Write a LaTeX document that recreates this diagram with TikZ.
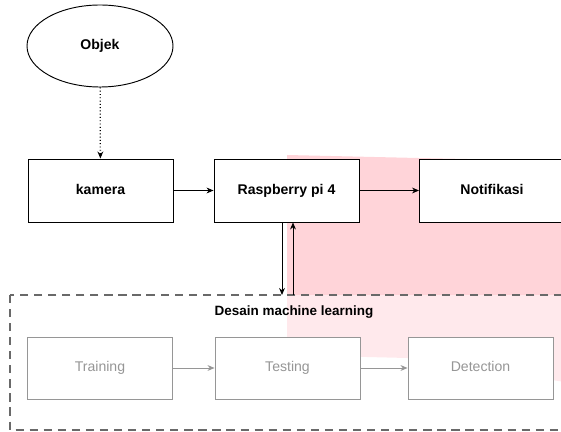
\documentclass[tikz,border=0pt]{standalone}
\usepackage{fontspec}
\setmainfont{Liberation Sans}
\usetikzlibrary{arrows.meta,shapes.geometric}
\definecolor{pinkbg}{RGB}{255,212,217}
\definecolor{boxgray}{RGB}{150,150,150}
\definecolor{dashgray}{RGB}{105,105,105}
\begin{document}
\begin{tikzpicture}[x=0.03cm, y=-0.03cm,
  blok/.style={draw, line width=0.8pt, fill=white, minimum width=4.35cm, minimum height=1.89cm, text height=1.5ex, text depth=0.3ex, font=\fontsize{12}{14}\selectfont\bfseries},
  blokml/.style={draw=boxgray, line width=0.8pt, fill=white, minimum width=4.35cm, minimum height=1.86cm, text height=1.5ex, text depth=0.3ex, text=boxgray, font=\fontsize{12}{14}\selectfont},
  panah/.style={-{Stealth[length=6pt,width=5pt]}, line width=0.8pt},
  panahml/.style={-{Stealth[length=6pt,width=5pt]}, line width=0.8pt, draw=boxgray}]
\clip (0,0) rectangle (561,432);
% latar merah muda
\fill[pinkbg] (287,155) -- (418,158) -- (565,161) -- (565,382) -- (407,358) -- (287,355) -- cycle;
% kotak machine learning
\draw[dashgray, line width=2pt, dash pattern=on 7pt off 5pt, fill=white, fill opacity=0.5] (10,295) rectangle (580,430);
\node[font=\fontsize{11.5}{13}\selectfont\bfseries] (dml) at (294,312) {Desain machine learning};

\node[ellipse, draw, line width=0.8pt, minimum width=4.38cm, minimum height=2.46cm, font=\fontsize{12}{14}\selectfont\bfseries] (obj) at (100,46) {Objek};
\node[blok] (kam) at (100.5,190.5) {kamera};
\node[blok] (rpi) at (286.5,190.5) {Raspberry pi 4};
\node[blok] (notif) at (492,190.5) {Notifikasi};
\node[blokml] (trn) at (100,368) {Training};
\node[blokml] (tst) at (287.5,368) {Testing};
\node[blokml] (det) at (480.5,368) {Detection};

\coordinate (dn) at (282,295);
\coordinate (up) at (293,295);

\draw[panah, dotted, line width=1.1pt] (obj) -- (kam);
\draw[panah] (kam) -- (rpi);
\draw[panah] (rpi) -- (notif);
\draw[panah] (rpi.south -| dn) -- (dn);
\draw[panah] (up) -- (rpi.south -| up);
\draw[panahml] (trn) -- (tst);
\draw[panahml] (tst) -- (det);

\end{tikzpicture}
\end{document}
